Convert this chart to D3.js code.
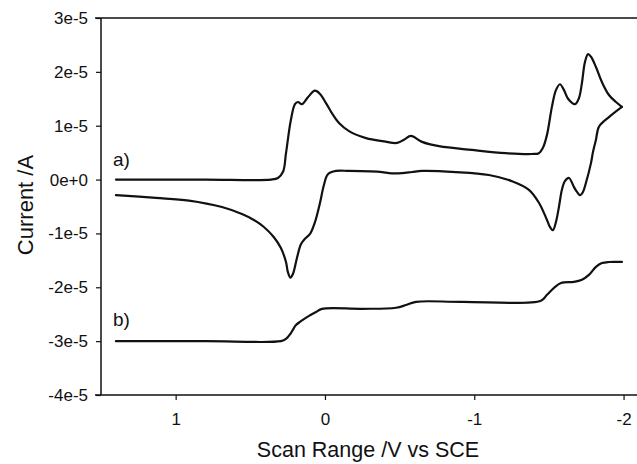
<!DOCTYPE html>
<html>
<head>
<meta charset="utf-8">
<script src="https://cdn.jsdelivr.net/npm/d3@7"></script>
<style>
  html, body { margin: 0; padding: 0; background: #fff; }
  svg { display: block; font-family: "Liberation Sans", Arial, Helvetica, sans-serif; }
</style>
</head>
<body>
<svg id="chart" width="637" height="464"></svg>
<script>
// ---- data (potential in V vs SCE, current in A) ----
const xTickValues = [1, 0, -1, -2];
const xTickLabels = ["1", "0", "-1", "-2"];
const yTickValues = [3e-5, 2e-5, 1e-5, 0, -1e-5, -2e-5, -3e-5, -4e-5];
const yTickLabels = ["3e-5", "2e-5", "1e-5", "0e+0", "-1e-5", "-2e-5", "-3e-5", "-4e-5"];

// curve a) cyclic voltammogram, forward scan (1.4 V -> -2.0 V)
const cvForwardV = [1.40, 0.80, 0.362, 0.315, 0.280, 0.261, 0.228, 0.201, 0.181, 0.154, 0.114, 0.067, 0.033, -0.007, -0.054, -0.094, -0.161, -0.275, -0.395, -0.482, -0.529, -0.576, -0.650, -0.764, -0.985, -1.212, -1.386, -1.433, -1.460, -1.487, -1.520, -1.547, -1.574, -1.601, -1.628, -1.675, -1.701, -1.721, -1.741, -1.762, -1.782, -1.815, -1.855, -1.902, -1.949, -1.989];
const cvForwardI = [0, 0, 0.0, 0.03, 0.15, 0.49, 1.11, 1.40, 1.44, 1.40, 1.53, 1.65, 1.59, 1.42, 1.20, 1.05, 0.90, 0.77, 0.71, 0.68, 0.74, 0.81, 0.70, 0.62, 0.55, 0.49, 0.475, 0.49, 0.59, 0.83, 1.35, 1.66, 1.77, 1.66, 1.50, 1.40, 1.51, 1.79, 2.18, 2.33, 2.28, 2.09, 1.81, 1.57, 1.44, 1.35].map(v => v * 1e-5);

// curve a) reverse scan (-2.0 V -> 1.4 V)
const cvReverseV = [-1.989, -1.902, -1.835, -1.815, -1.795, -1.782, -1.748, -1.728, -1.708, -1.688, -1.668, -1.634, -1.607, -1.587, -1.567, -1.547, -1.527, -1.507, -1.487, -1.433, -1.366, -1.253, -1.098, -0.877, -0.650, -0.583, -0.516, -0.429, -0.382, -0.161, -0.074, -0.020, 0.007, 0.033, 0.067, 0.100, 0.134, 0.161, 0.188, 0.214, 0.231, 0.248, 0.261, 0.295, 0.342, 0.409, 0.476, 0.556, 0.690, 0.911, 1.132, 1.40];
const cvReverseI = [1.35, 1.16, 0.98, 0.74, 0.51, 0.31, -0.06, -0.23, -0.29, -0.23, -0.14, 0.03, -0.03, -0.19, -0.51, -0.79, -0.94, -0.88, -0.75, -0.43, -0.19, -0.03, 0.085, 0.14, 0.16, 0.14, 0.12, 0.12, 0.14, 0.16, 0.16, 0.10, -0.10, -0.43, -0.79, -1.01, -1.10, -1.20, -1.46, -1.75, -1.82, -1.72, -1.53, -1.27, -1.07, -0.88, -0.75, -0.64, -0.51, -0.39, -0.34, -0.29].map(v => v * 1e-5);

// curve b) steady-state trace
const bV = [1.40, 0.80, 0.295, 0.261, 0.228, 0.194, 0.161, 0.107, 0.060, 0.020, -0.248, -0.476, -0.543, -0.610, -0.918, -1.447, -1.487, -1.534, -1.581, -1.668, -1.721, -1.768, -1.815, -1.855, -1.902, -1.989];
const bI = [-3.0, -3.0, -3.0, -2.96, -2.85, -2.70, -2.63, -2.53, -2.46, -2.40, -2.40, -2.38, -2.33, -2.27, -2.27, -2.25, -2.14, -2.01, -1.92, -1.90, -1.86, -1.77, -1.62, -1.55, -1.53, -1.53].map(v => v * 1e-5);

const curveLabels = ["a)", "b)"];
const xTitle = "Scan Range /V vs SCE";
const yTitle = "Current /A";

// ---- layout ----
const svg = d3.select("#chart");
const pLeft = 101, pRight = 638.5, pTop = 18, pBottom = 395;

const x = d3.scaleLinear().domain([1.5, -2.1]).range([pLeft, pRight]);
const y = d3.scaleLinear().domain([-4e-5, 3e-5]).range([pBottom, pTop]);

const ink = "#111";

// top frame line (extends slightly left of y axis)
svg.append("line").attr("x1", 95).attr("x2", 637).attr("y1", pTop).attr("y2", pTop)
  .attr("stroke", ink).attr("stroke-width", 1.5);

// axes
const xAxis = d3.axisBottom(x).tickValues(xTickValues)
  .tickFormat((d, i) => xTickLabels[i]).tickSize(5).tickSizeOuter(0);
const gx = svg.append("g").attr("transform", `translate(0,${pBottom})`).call(xAxis);
gx.select(".domain").remove();
gx.append("line").attr("x1", 95).attr("x2", 637).attr("y1", 0).attr("y2", 0)
  .attr("stroke", ink).attr("stroke-width", 1.5);
gx.selectAll(".tick line").attr("stroke", ink).attr("stroke-width", 1.2);
gx.selectAll(".tick text").attr("fill", ink).attr("font-size", 17).attr("y", 18);

const yAxis = d3.axisLeft(y).tickValues(yTickValues)
  .tickFormat((d, i) => yTickLabels[i]).tickSize(5).tickSizeOuter(0);
const gy = svg.append("g").attr("transform", `translate(${pLeft},0)`).call(yAxis);
gy.select(".domain").attr("stroke", ink).attr("stroke-width", 1.5).attr("d", `M0,${pTop}V${pBottom}`);
gy.selectAll(".tick line").attr("stroke", ink).attr("stroke-width", 1.2);
gy.selectAll(".tick text").attr("fill", ink).attr("font-size", 17).attr("x", -13);

// curves
const line = d3.line().x(d => x(d[0])).y(d => y(d[1])).curve(d3.curveCatmullRom.alpha(0.5));
const zip = (a, b) => a.map((v, i) => [v, b[i]]);

[zip(cvForwardV, cvForwardI), zip(cvReverseV, cvReverseI), zip(bV, bI)].forEach(pts => {
  svg.append("path").attr("d", line(pts))
    .attr("fill", "none").attr("stroke", ink).attr("stroke-width", 2.2)
    .attr("stroke-linejoin", "round").attr("stroke-linecap", "round");
});

// curve labels
svg.append("text").attr("x", x(1.42)).attr("y", y(0.25e-5)).attr("font-size", 19).attr("fill", ink).text(curveLabels[0]);
svg.append("text").attr("x", x(1.42)).attr("y", y(-2.72e-5)).attr("font-size", 19).attr("fill", ink).text(curveLabels[1]);

// axis titles
svg.append("text").attr("x", 368).attr("y", 457).attr("text-anchor", "middle")
  .attr("font-size", 21.5).attr("fill", ink).text(xTitle);
svg.append("text").attr("transform", `translate(33,205) rotate(-90)`)
  .attr("text-anchor", "middle").attr("font-size", 22).attr("fill", ink).text(yTitle);
</script>
</body>
</html>
